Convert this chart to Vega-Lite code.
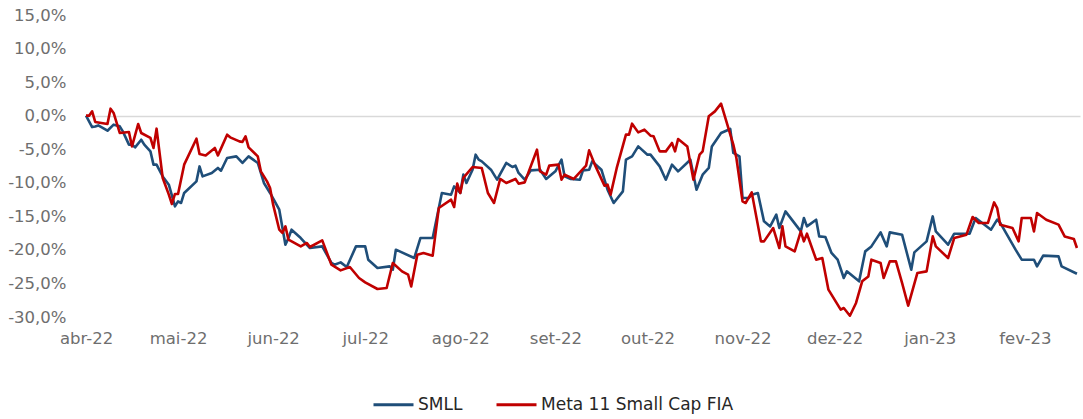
{
  "$schema": "https://vega.github.io/schema/vega-lite/v6.json",
  "width": 994,
  "height": 302,
  "autosize": {"type": "none"},
  "padding": {"left": 86, "top": 15, "right": 3, "bottom": 102},
  "background": "white",
  "config": {
    "view": {"stroke": null},
    "font": "DejaVu Sans"
  },
  "data": {
    "values": [
      {"date":"2022-04-01","serie":"SMLL","value":0},
      {"date":"2022-04-03","serie":"SMLL","value":-1.7},
      {"date":"2022-04-04","serie":"SMLL","value":-1.6},
      {"date":"2022-04-05","serie":"SMLL","value":-1.45},
      {"date":"2022-04-08","serie":"SMLL","value":-2.24},
      {"date":"2022-04-10","serie":"SMLL","value":-1.34},
      {"date":"2022-04-12","serie":"SMLL","value":-1.59},
      {"date":"2022-04-13","serie":"SMLL","value":-2.34},
      {"date":"2022-04-15","serie":"SMLL","value":-4.32},
      {"date":"2022-04-16","serie":"SMLL","value":-4.32},
      {"date":"2022-04-17","serie":"SMLL","value":-4.72},
      {"date":"2022-04-19","serie":"SMLL","value":-3.58},
      {"date":"2022-04-20","serie":"SMLL","value":-4.32},
      {"date":"2022-04-22","serie":"SMLL","value":-5.32},
      {"date":"2022-04-23","serie":"SMLL","value":-7.3},
      {"date":"2022-04-24","serie":"SMLL","value":-7.3},
      {"date":"2022-04-26","serie":"SMLL","value":-9.05},
      {"date":"2022-04-28","serie":"SMLL","value":-10.28},
      {"date":"2022-04-30","serie":"SMLL","value":-13.52},
      {"date":"2022-05-01","serie":"SMLL","value":-12.77},
      {"date":"2022-05-02","serie":"SMLL","value":-13.01},
      {"date":"2022-05-03","serie":"SMLL","value":-11.52},
      {"date":"2022-05-07","serie":"SMLL","value":-9.79},
      {"date":"2022-05-08","serie":"SMLL","value":-7.56},
      {"date":"2022-05-09","serie":"SMLL","value":-9.05},
      {"date":"2022-05-12","serie":"SMLL","value":-8.54},
      {"date":"2022-05-14","serie":"SMLL","value":-7.79},
      {"date":"2022-05-15","serie":"SMLL","value":-8.2},
      {"date":"2022-05-17","serie":"SMLL","value":-6.3},
      {"date":"2022-05-20","serie":"SMLL","value":-6.07},
      {"date":"2022-05-22","serie":"SMLL","value":-7.05},
      {"date":"2022-05-24","serie":"SMLL","value":-6.07},
      {"date":"2022-05-27","serie":"SMLL","value":-7.05},
      {"date":"2022-05-29","serie":"SMLL","value":-10.03},
      {"date":"2022-05-31","serie":"SMLL","value":-11.52},
      {"date":"2022-06-03","serie":"SMLL","value":-14.01},
      {"date":"2022-06-05","serie":"SMLL","value":-19.23},
      {"date":"2022-06-06","serie":"SMLL","value":-18.23},
      {"date":"2022-06-07","serie":"SMLL","value":-16.99},
      {"date":"2022-06-10","serie":"SMLL","value":-18.23},
      {"date":"2022-06-13","serie":"SMLL","value":-19.72},
      {"date":"2022-06-17","serie":"SMLL","value":-19.48},
      {"date":"2022-06-20","serie":"SMLL","value":-21.95},
      {"date":"2022-06-21","serie":"SMLL","value":-22.21},
      {"date":"2022-06-23","serie":"SMLL","value":-21.86},
      {"date":"2022-06-25","serie":"SMLL","value":-22.55},
      {"date":"2022-06-28","serie":"SMLL","value":-19.48},
      {"date":"2022-07-01","serie":"SMLL","value":-19.48},
      {"date":"2022-07-02","serie":"SMLL","value":-21.46},
      {"date":"2022-07-05","serie":"SMLL","value":-22.7},
      {"date":"2022-07-09","serie":"SMLL","value":-22.46},
      {"date":"2022-07-10","serie":"SMLL","value":-22.95},
      {"date":"2022-07-11","serie":"SMLL","value":-19.97},
      {"date":"2022-07-17","serie":"SMLL","value":-21.21},
      {"date":"2022-07-19","serie":"SMLL","value":-18.23},
      {"date":"2022-07-23","serie":"SMLL","value":-18.23},
      {"date":"2022-07-26","serie":"SMLL","value":-11.52},
      {"date":"2022-07-29","serie":"SMLL","value":-11.77},
      {"date":"2022-07-30","serie":"SMLL","value":-10.54},
      {"date":"2022-08-01","serie":"SMLL","value":-11.52},
      {"date":"2022-08-02","serie":"SMLL","value":-8.79},
      {"date":"2022-08-03","serie":"SMLL","value":-10.03},
      {"date":"2022-08-05","serie":"SMLL","value":-8.05},
      {"date":"2022-08-06","serie":"SMLL","value":-5.81},
      {"date":"2022-08-07","serie":"SMLL","value":-6.56},
      {"date":"2022-08-08","serie":"SMLL","value":-6.81},
      {"date":"2022-08-11","serie":"SMLL","value":-8.05},
      {"date":"2022-08-13","serie":"SMLL","value":-9.54},
      {"date":"2022-08-16","serie":"SMLL","value":-7.05},
      {"date":"2022-08-18","serie":"SMLL","value":-7.65},
      {"date":"2022-08-19","serie":"SMLL","value":-7.45},
      {"date":"2022-08-20","serie":"SMLL","value":-8.54},
      {"date":"2022-08-22","serie":"SMLL","value":-9.54},
      {"date":"2022-08-24","serie":"SMLL","value":-8.15},
      {"date":"2022-08-27","serie":"SMLL","value":-8.05},
      {"date":"2022-08-29","serie":"SMLL","value":-9.43},
      {"date":"2022-09-01","serie":"SMLL","value":-8.3},
      {"date":"2022-09-03","serie":"SMLL","value":-6.56},
      {"date":"2022-09-04","serie":"SMLL","value":-9.05},
      {"date":"2022-09-06","serie":"SMLL","value":-9.43},
      {"date":"2022-09-09","serie":"SMLL","value":-9.54},
      {"date":"2022-09-10","serie":"SMLL","value":-8.15},
      {"date":"2022-09-12","serie":"SMLL","value":-8.05},
      {"date":"2022-09-13","serie":"SMLL","value":-6.81},
      {"date":"2022-09-16","serie":"SMLL","value":-8.05},
      {"date":"2022-09-18","serie":"SMLL","value":-11.03},
      {"date":"2022-09-20","serie":"SMLL","value":-13.01},
      {"date":"2022-09-23","serie":"SMLL","value":-11.28},
      {"date":"2022-09-24","serie":"SMLL","value":-6.56},
      {"date":"2022-09-26","serie":"SMLL","value":-6.07},
      {"date":"2022-09-28","serie":"SMLL","value":-4.58},
      {"date":"2022-10-01","serie":"SMLL","value":-5.81},
      {"date":"2022-10-02","serie":"SMLL","value":-5.81},
      {"date":"2022-10-05","serie":"SMLL","value":-7.56},
      {"date":"2022-10-07","serie":"SMLL","value":-9.54},
      {"date":"2022-10-09","serie":"SMLL","value":-7.3},
      {"date":"2022-10-11","serie":"SMLL","value":-8.3},
      {"date":"2022-10-15","serie":"SMLL","value":-6.56},
      {"date":"2022-10-17","serie":"SMLL","value":-11.03},
      {"date":"2022-10-19","serie":"SMLL","value":-8.79},
      {"date":"2022-10-21","serie":"SMLL","value":-7.79},
      {"date":"2022-10-22","serie":"SMLL","value":-4.58},
      {"date":"2022-10-25","serie":"SMLL","value":-2.58},
      {"date":"2022-10-28","serie":"SMLL","value":-1.98},
      {"date":"2022-10-29","serie":"SMLL","value":-5.56},
      {"date":"2022-10-31","serie":"SMLL","value":-6.07},
      {"date":"2022-11-01","serie":"SMLL","value":-12.27},
      {"date":"2022-11-03","serie":"SMLL","value":-12.27},
      {"date":"2022-11-04","serie":"SMLL","value":-11.77},
      {"date":"2022-11-06","serie":"SMLL","value":-11.52},
      {"date":"2022-11-08","serie":"SMLL","value":-15.75},
      {"date":"2022-11-10","serie":"SMLL","value":-16.5},
      {"date":"2022-11-12","serie":"SMLL","value":-14.75},
      {"date":"2022-11-13","serie":"SMLL","value":-16.74},
      {"date":"2022-11-15","serie":"SMLL","value":-14.26},
      {"date":"2022-11-20","serie":"SMLL","value":-17.24},
      {"date":"2022-11-21","serie":"SMLL","value":-15.25},
      {"date":"2022-11-22","serie":"SMLL","value":-16.5},
      {"date":"2022-11-25","serie":"SMLL","value":-15.5},
      {"date":"2022-11-26","serie":"SMLL","value":-17.99},
      {"date":"2022-11-28","serie":"SMLL","value":-18.08},
      {"date":"2022-11-30","serie":"SMLL","value":-20.46},
      {"date":"2022-12-02","serie":"SMLL","value":-21.46},
      {"date":"2022-12-04","serie":"SMLL","value":-24.19},
      {"date":"2022-12-05","serie":"SMLL","value":-23.2},
      {"date":"2022-12-09","serie":"SMLL","value":-24.69},
      {"date":"2022-12-11","serie":"SMLL","value":-20.22},
      {"date":"2022-12-13","serie":"SMLL","value":-19.48},
      {"date":"2022-12-16","serie":"SMLL","value":-17.39},
      {"date":"2022-12-18","serie":"SMLL","value":-19.48},
      {"date":"2022-12-19","serie":"SMLL","value":-17.39},
      {"date":"2022-12-23","serie":"SMLL","value":-17.73},
      {"date":"2022-12-26","serie":"SMLL","value":-22.95},
      {"date":"2022-12-27","serie":"SMLL","value":-20.37},
      {"date":"2022-12-31","serie":"SMLL","value":-18.73},
      {"date":"2023-01-02","serie":"SMLL","value":-15.01},
      {"date":"2023-01-03","serie":"SMLL","value":-17.24},
      {"date":"2023-01-07","serie":"SMLL","value":-19.23},
      {"date":"2023-01-09","serie":"SMLL","value":-17.59},
      {"date":"2023-01-14","serie":"SMLL","value":-17.59},
      {"date":"2023-01-16","serie":"SMLL","value":-15.25},
      {"date":"2023-01-21","serie":"SMLL","value":-16.99},
      {"date":"2023-01-23","serie":"SMLL","value":-15.5},
      {"date":"2023-01-24","serie":"SMLL","value":-15.99},
      {"date":"2023-01-29","serie":"SMLL","value":-19.97},
      {"date":"2023-01-31","serie":"SMLL","value":-21.46},
      {"date":"2023-02-04","serie":"SMLL","value":-21.46},
      {"date":"2023-02-05","serie":"SMLL","value":-22.46},
      {"date":"2023-02-07","serie":"SMLL","value":-20.86},
      {"date":"2023-02-12","serie":"SMLL","value":-20.97},
      {"date":"2023-02-13","serie":"SMLL","value":-22.46},
      {"date":"2023-02-18","serie":"SMLL","value":-23.55},

      {"date":"2022-04-01","serie":"Meta 11 Small Cap FIA","value":0},
      {"date":"2022-04-02","serie":"Meta 11 Small Cap FIA","value":0},
      {"date":"2022-04-03","serie":"Meta 11 Small Cap FIA","value":0.64},
      {"date":"2022-04-04","serie":"Meta 11 Small Cap FIA","value":-0.94},
      {"date":"2022-04-08","serie":"Meta 11 Small Cap FIA","value":-1.24},
      {"date":"2022-04-09","serie":"Meta 11 Small Cap FIA","value":1.04},
      {"date":"2022-04-10","serie":"Meta 11 Small Cap FIA","value":0.4},
      {"date":"2022-04-12","serie":"Meta 11 Small Cap FIA","value":-2.58},
      {"date":"2022-04-15","serie":"Meta 11 Small Cap FIA","value":-2.43},
      {"date":"2022-04-16","serie":"Meta 11 Small Cap FIA","value":-4.58},
      {"date":"2022-04-18","serie":"Meta 11 Small Cap FIA","value":-1.24},
      {"date":"2022-04-19","serie":"Meta 11 Small Cap FIA","value":-2.58},
      {"date":"2022-04-22","serie":"Meta 11 Small Cap FIA","value":-3.32},
      {"date":"2022-04-23","serie":"Meta 11 Small Cap FIA","value":-4.81},
      {"date":"2022-04-24","serie":"Meta 11 Small Cap FIA","value":-1.94},
      {"date":"2022-04-26","serie":"Meta 11 Small Cap FIA","value":-9.28},
      {"date":"2022-04-28","serie":"Meta 11 Small Cap FIA","value":-11.77},
      {"date":"2022-04-29","serie":"Meta 11 Small Cap FIA","value":-13.16},
      {"date":"2022-04-30","serie":"Meta 11 Small Cap FIA","value":-11.67},
      {"date":"2022-05-01","serie":"Meta 11 Small Cap FIA","value":-11.67},
      {"date":"2022-05-03","serie":"Meta 11 Small Cap FIA","value":-7.3},
      {"date":"2022-05-07","serie":"Meta 11 Small Cap FIA","value":-3.43},
      {"date":"2022-05-08","serie":"Meta 11 Small Cap FIA","value":-5.71},
      {"date":"2022-05-10","serie":"Meta 11 Small Cap FIA","value":-5.92},
      {"date":"2022-05-13","serie":"Meta 11 Small Cap FIA","value":-4.81},
      {"date":"2022-05-14","serie":"Meta 11 Small Cap FIA","value":-5.92},
      {"date":"2022-05-17","serie":"Meta 11 Small Cap FIA","value":-2.83},
      {"date":"2022-05-18","serie":"Meta 11 Small Cap FIA","value":-3.23},
      {"date":"2022-05-21","serie":"Meta 11 Small Cap FIA","value":-3.83},
      {"date":"2022-05-22","serie":"Meta 11 Small Cap FIA","value":-3.92},
      {"date":"2022-05-23","serie":"Meta 11 Small Cap FIA","value":-3.08},
      {"date":"2022-05-24","serie":"Meta 11 Small Cap FIA","value":-4.72},
      {"date":"2022-05-27","serie":"Meta 11 Small Cap FIA","value":-6.07},
      {"date":"2022-05-28","serie":"Meta 11 Small Cap FIA","value":-8.3},
      {"date":"2022-05-30","serie":"Meta 11 Small Cap FIA","value":-9.79},
      {"date":"2022-05-31","serie":"Meta 11 Small Cap FIA","value":-10.78},
      {"date":"2022-06-01","serie":"Meta 11 Small Cap FIA","value":-13.26},
      {"date":"2022-06-03","serie":"Meta 11 Small Cap FIA","value":-16.99},
      {"date":"2022-06-04","serie":"Meta 11 Small Cap FIA","value":-17.48},
      {"date":"2022-06-05","serie":"Meta 11 Small Cap FIA","value":-16.5},
      {"date":"2022-06-06","serie":"Meta 11 Small Cap FIA","value":-18.48},
      {"date":"2022-06-10","serie":"Meta 11 Small Cap FIA","value":-19.48},
      {"date":"2022-06-12","serie":"Meta 11 Small Cap FIA","value":-18.97},
      {"date":"2022-06-13","serie":"Meta 11 Small Cap FIA","value":-19.57},
      {"date":"2022-06-17","serie":"Meta 11 Small Cap FIA","value":-18.58},
      {"date":"2022-06-20","serie":"Meta 11 Small Cap FIA","value":-22.21},
      {"date":"2022-06-23","serie":"Meta 11 Small Cap FIA","value":-23.05},
      {"date":"2022-06-26","serie":"Meta 11 Small Cap FIA","value":-22.55},
      {"date":"2022-06-29","serie":"Meta 11 Small Cap FIA","value":-24.19},
      {"date":"2022-07-01","serie":"Meta 11 Small Cap FIA","value":-24.84},
      {"date":"2022-07-05","serie":"Meta 11 Small Cap FIA","value":-25.83},
      {"date":"2022-07-08","serie":"Meta 11 Small Cap FIA","value":-25.68},
      {"date":"2022-07-10","serie":"Meta 11 Small Cap FIA","value":-21.95},
      {"date":"2022-07-13","serie":"Meta 11 Small Cap FIA","value":-23.2},
      {"date":"2022-07-15","serie":"Meta 11 Small Cap FIA","value":-23.7},
      {"date":"2022-07-16","serie":"Meta 11 Small Cap FIA","value":-25.44},
      {"date":"2022-07-18","serie":"Meta 11 Small Cap FIA","value":-20.72},
      {"date":"2022-07-20","serie":"Meta 11 Small Cap FIA","value":-20.46},
      {"date":"2022-07-23","serie":"Meta 11 Small Cap FIA","value":-20.86},
      {"date":"2022-07-25","serie":"Meta 11 Small Cap FIA","value":-13.76},
      {"date":"2022-07-29","serie":"Meta 11 Small Cap FIA","value":-12.52},
      {"date":"2022-07-30","serie":"Meta 11 Small Cap FIA","value":-13.61},
      {"date":"2022-07-31","serie":"Meta 11 Small Cap FIA","value":-10.13},
      {"date":"2022-08-01","serie":"Meta 11 Small Cap FIA","value":-11.52},
      {"date":"2022-08-02","serie":"Meta 11 Small Cap FIA","value":-9.28},
      {"date":"2022-08-05","serie":"Meta 11 Small Cap FIA","value":-7.65},
      {"date":"2022-08-08","serie":"Meta 11 Small Cap FIA","value":-7.79},
      {"date":"2022-08-10","serie":"Meta 11 Small Cap FIA","value":-11.52},
      {"date":"2022-08-12","serie":"Meta 11 Small Cap FIA","value":-13.01},
      {"date":"2022-08-14","serie":"Meta 11 Small Cap FIA","value":-9.43},
      {"date":"2022-08-16","serie":"Meta 11 Small Cap FIA","value":-10.03},
      {"date":"2022-08-19","serie":"Meta 11 Small Cap FIA","value":-9.43},
      {"date":"2022-08-20","serie":"Meta 11 Small Cap FIA","value":-10.13},
      {"date":"2022-08-22","serie":"Meta 11 Small Cap FIA","value":-9.94},
      {"date":"2022-08-26","serie":"Meta 11 Small Cap FIA","value":-5.07},
      {"date":"2022-08-27","serie":"Meta 11 Small Cap FIA","value":-8.3},
      {"date":"2022-08-29","serie":"Meta 11 Small Cap FIA","value":-8.79},
      {"date":"2022-08-30","serie":"Meta 11 Small Cap FIA","value":-7.45},
      {"date":"2022-09-02","serie":"Meta 11 Small Cap FIA","value":-7.3},
      {"date":"2022-09-03","serie":"Meta 11 Small Cap FIA","value":-9.54},
      {"date":"2022-09-04","serie":"Meta 11 Small Cap FIA","value":-8.79},
      {"date":"2022-09-07","serie":"Meta 11 Small Cap FIA","value":-9.43},
      {"date":"2022-09-10","serie":"Meta 11 Small Cap FIA","value":-7.94},
      {"date":"2022-09-11","serie":"Meta 11 Small Cap FIA","value":-7.45},
      {"date":"2022-09-12","serie":"Meta 11 Small Cap FIA","value":-5.17},
      {"date":"2022-09-14","serie":"Meta 11 Small Cap FIA","value":-7.45},
      {"date":"2022-09-17","serie":"Meta 11 Small Cap FIA","value":-10.43},
      {"date":"2022-09-18","serie":"Meta 11 Small Cap FIA","value":-10.28},
      {"date":"2022-09-19","serie":"Meta 11 Small Cap FIA","value":-11.77},
      {"date":"2022-09-21","serie":"Meta 11 Small Cap FIA","value":-7.79},
      {"date":"2022-09-24","serie":"Meta 11 Small Cap FIA","value":-2.83},
      {"date":"2022-09-25","serie":"Meta 11 Small Cap FIA","value":-2.83},
      {"date":"2022-09-26","serie":"Meta 11 Small Cap FIA","value":-1.19},
      {"date":"2022-09-28","serie":"Meta 11 Small Cap FIA","value":-2.49},
      {"date":"2022-09-30","serie":"Meta 11 Small Cap FIA","value":-2.09},
      {"date":"2022-10-02","serie":"Meta 11 Small Cap FIA","value":-2.98},
      {"date":"2022-10-03","serie":"Meta 11 Small Cap FIA","value":-3.08},
      {"date":"2022-10-05","serie":"Meta 11 Small Cap FIA","value":-5.32},
      {"date":"2022-10-07","serie":"Meta 11 Small Cap FIA","value":-5.32},
      {"date":"2022-10-09","serie":"Meta 11 Small Cap FIA","value":-4.07},
      {"date":"2022-10-10","serie":"Meta 11 Small Cap FIA","value":-5.32},
      {"date":"2022-10-11","serie":"Meta 11 Small Cap FIA","value":-3.47},
      {"date":"2022-10-14","serie":"Meta 11 Small Cap FIA","value":-4.58},
      {"date":"2022-10-16","serie":"Meta 11 Small Cap FIA","value":-9.54},
      {"date":"2022-10-18","serie":"Meta 11 Small Cap FIA","value":-5.81},
      {"date":"2022-10-19","serie":"Meta 11 Small Cap FIA","value":-5.32},
      {"date":"2022-10-21","serie":"Meta 11 Small Cap FIA","value":-0.1},
      {"date":"2022-10-23","serie":"Meta 11 Small Cap FIA","value":0.64},
      {"date":"2022-10-25","serie":"Meta 11 Small Cap FIA","value":1.79},
      {"date":"2022-10-29","serie":"Meta 11 Small Cap FIA","value":-4.32},
      {"date":"2022-10-30","serie":"Meta 11 Small Cap FIA","value":-6.3},
      {"date":"2022-11-01","serie":"Meta 11 Small Cap FIA","value":-12.77},
      {"date":"2022-11-02","serie":"Meta 11 Small Cap FIA","value":-13.01},
      {"date":"2022-11-04","serie":"Meta 11 Small Cap FIA","value":-11.43},
      {"date":"2022-11-07","serie":"Meta 11 Small Cap FIA","value":-18.73},
      {"date":"2022-11-08","serie":"Meta 11 Small Cap FIA","value":-18.73},
      {"date":"2022-11-11","serie":"Meta 11 Small Cap FIA","value":-16.74},
      {"date":"2022-11-13","serie":"Meta 11 Small Cap FIA","value":-19.72},
      {"date":"2022-11-14","serie":"Meta 11 Small Cap FIA","value":-16.5},
      {"date":"2022-11-15","serie":"Meta 11 Small Cap FIA","value":-19.48},
      {"date":"2022-11-18","serie":"Meta 11 Small Cap FIA","value":-20.22},
      {"date":"2022-11-20","serie":"Meta 11 Small Cap FIA","value":-17.24},
      {"date":"2022-11-21","serie":"Meta 11 Small Cap FIA","value":-18.73},
      {"date":"2022-11-22","serie":"Meta 11 Small Cap FIA","value":-17.59},
      {"date":"2022-11-25","serie":"Meta 11 Small Cap FIA","value":-21.46},
      {"date":"2022-11-27","serie":"Meta 11 Small Cap FIA","value":-21.21},
      {"date":"2022-11-29","serie":"Meta 11 Small Cap FIA","value":-25.93},
      {"date":"2022-12-03","serie":"Meta 11 Small Cap FIA","value":-28.91},
      {"date":"2022-12-04","serie":"Meta 11 Small Cap FIA","value":-28.66},
      {"date":"2022-12-06","serie":"Meta 11 Small Cap FIA","value":-29.81},
      {"date":"2022-12-08","serie":"Meta 11 Small Cap FIA","value":-27.91},
      {"date":"2022-12-10","serie":"Meta 11 Small Cap FIA","value":-24.69},
      {"date":"2022-12-12","serie":"Meta 11 Small Cap FIA","value":-23.95},
      {"date":"2022-12-13","serie":"Meta 11 Small Cap FIA","value":-21.46},
      {"date":"2022-12-16","serie":"Meta 11 Small Cap FIA","value":-21.95},
      {"date":"2022-12-17","serie":"Meta 11 Small Cap FIA","value":-24.19},
      {"date":"2022-12-19","serie":"Meta 11 Small Cap FIA","value":-21.71},
      {"date":"2022-12-21","serie":"Meta 11 Small Cap FIA","value":-21.71},
      {"date":"2022-12-23","serie":"Meta 11 Small Cap FIA","value":-24.93},
      {"date":"2022-12-25","serie":"Meta 11 Small Cap FIA","value":-28.32},
      {"date":"2022-12-28","serie":"Meta 11 Small Cap FIA","value":-23.44},
      {"date":"2022-12-31","serie":"Meta 11 Small Cap FIA","value":-23.2},
      {"date":"2023-01-02","serie":"Meta 11 Small Cap FIA","value":-17.99},
      {"date":"2023-01-03","serie":"Meta 11 Small Cap FIA","value":-19.48},
      {"date":"2023-01-07","serie":"Meta 11 Small Cap FIA","value":-21.21},
      {"date":"2023-01-09","serie":"Meta 11 Small Cap FIA","value":-18.23},
      {"date":"2023-01-13","serie":"Meta 11 Small Cap FIA","value":-17.73},
      {"date":"2023-01-15","serie":"Meta 11 Small Cap FIA","value":-15.1},
      {"date":"2023-01-17","serie":"Meta 11 Small Cap FIA","value":-15.99},
      {"date":"2023-01-20","serie":"Meta 11 Small Cap FIA","value":-15.99},
      {"date":"2023-01-22","serie":"Meta 11 Small Cap FIA","value":-12.92},
      {"date":"2023-01-23","serie":"Meta 11 Small Cap FIA","value":-13.76},
      {"date":"2023-01-24","serie":"Meta 11 Small Cap FIA","value":-16.24},
      {"date":"2023-01-28","serie":"Meta 11 Small Cap FIA","value":-16.74},
      {"date":"2023-01-30","serie":"Meta 11 Small Cap FIA","value":-18.73},
      {"date":"2023-01-31","serie":"Meta 11 Small Cap FIA","value":-15.25},
      {"date":"2023-02-03","serie":"Meta 11 Small Cap FIA","value":-15.25},
      {"date":"2023-02-04","serie":"Meta 11 Small Cap FIA","value":-17.24},
      {"date":"2023-02-05","serie":"Meta 11 Small Cap FIA","value":-14.5},
      {"date":"2023-02-08","serie":"Meta 11 Small Cap FIA","value":-15.5},
      {"date":"2023-02-12","serie":"Meta 11 Small Cap FIA","value":-16.24},
      {"date":"2023-02-14","serie":"Meta 11 Small Cap FIA","value":-17.99},
      {"date":"2023-02-17","serie":"Meta 11 Small Cap FIA","value":-18.38},
      {"date":"2023-02-18","serie":"Meta 11 Small Cap FIA","value":-19.72}
    ]
  },
  "mark": {"type": "line", "strokeWidth": 2.6, "strokeJoin": "round"},
  "encoding": {
    "x": {
      "field": "date",
      "type": "temporal",
      "scale": {
        "type": "utc",
        "domain": [
          {"year": 2022, "month": 4, "date": 1, "utc": true},
          {"year": 2023, "month": 2, "date": 19, "utc": true}
        ]
      },
      "axis": {
        "title": null,
        "domain": false,
        "ticks": false,
        "tickSize": 0,
        "grid": false,
        "labelPadding": 13,
        "labelFontSize": 16.5,
        "labelColor": "#6E6E6E",
        "labelFont": "DejaVu Sans",
        "labelOverlap": false,
        "labelBound": false,
        "labelFlush": false,
        "values": [
          {"year": 2022, "month": 4, "date": 1, "utc": true},
          {"year": 2022, "month": 5, "date": 1, "utc": true},
          {"year": 2022, "month": 6, "date": 1, "utc": true},
          {"year": 2022, "month": 7, "date": 1, "utc": true},
          {"year": 2022, "month": 8, "date": 1, "utc": true},
          {"year": 2022, "month": 9, "date": 1, "utc": true},
          {"year": 2022, "month": 10, "date": 1, "utc": true},
          {"year": 2022, "month": 11, "date": 1, "utc": true},
          {"year": 2022, "month": 12, "date": 1, "utc": true},
          {"year": 2023, "month": 1, "date": 1, "utc": true},
          {"year": 2023, "month": 2, "date": 1, "utc": true}
        ],
        "labelExpr": "['jan','fev','mar','abr','mai','jun','jul','ago','set','out','nov','dez'][utcmonth(datum.value)] + '-' + utcFormat(datum.value, '%y')"
      }
    },
    "y": {
      "field": "value",
      "type": "quantitative",
      "scale": {"domain": [-30, 15], "nice": false, "zero": false},
      "axis": {
        "title": null,
        "domain": false,
        "ticks": false,
        "tickSize": 0,
        "grid": true,
        "gridColor": "#D9D9D9",
        "gridWidth": 1.5,
        "gridOpacity": {"condition": {"test": "datum.value === 0", "value": 1}, "value": 0},
        "labelPadding": 20,
        "labelFontSize": 16.5,
        "labelColor": "#6E6E6E",
        "labelFont": "DejaVu Sans",
        "labelOverlap": false,
        "labelBound": false,
        "values": [-30, -25, -20, -15, -10, -5, 0, 5, 10, 15],
        "labelExpr": "replace(replace(format(datum.value, '.1f'), '.', ','), '\u2212', '-') + '%'"
      }
    },
    "color": {
      "field": "serie",
      "type": "nominal",
      "scale": {
        "domain": ["SMLL", "Meta 11 Small Cap FIA"],
        "range": ["#1F4E79", "#C00000"]
      },
      "legend": {
        "title": null,
        "orient": "none",
        "direction": "horizontal",
        "legendX": 286,
        "legendY": 368,
        "symbolType": "stroke",
        "symbolSize": 1600,
        "symbolStrokeWidth": 3,
        "labelFontSize": 17,
        "labelColor": "#262626",
        "labelFont": "DejaVu Sans",
        "labelLimit": 400,
        "labelOffset": 3,
        "columnPadding": 27
      }
    }
  }
}
